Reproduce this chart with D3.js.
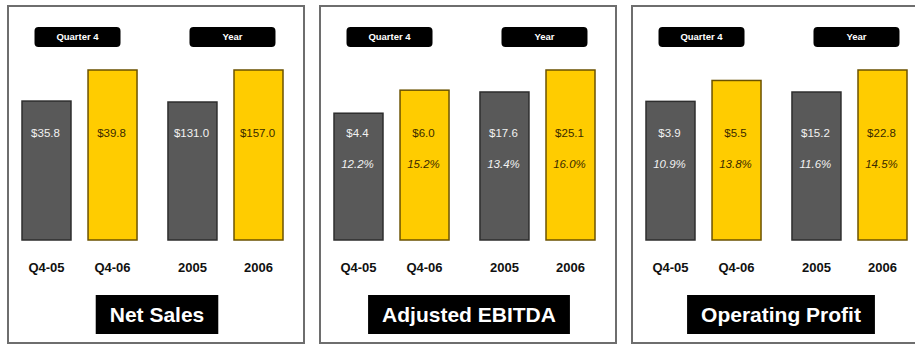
<!DOCTYPE html>
<html>
<head>
<meta charset="utf-8">
<script src="https://cdn.jsdelivr.net/npm/d3@7"></script>
<style>
  body { margin: 0; background: #fff; }
  svg { display: block; font-family: "Liberation Sans", Arial, sans-serif; }
</style>
</head>
<body>
<div id="chart"></div>
<script>
// Data
const panelTitles = ['Net Sales', 'Adjusted EBITDA', 'Operating Profit'];
const groups = ['Quarter 4', 'Year'];
const categories = [['Q4-05', 'Q4-06'], ['2005', '2006']];

const netSales = [35.8, 39.8, 131.0, 157.0];
const ebitda = [4.4, 6.0, 17.6, 25.1];
const opProfit = [3.9, 5.5, 15.2, 22.8];
const panelValues = [netSales, ebitda, opProfit];

const ebitdaMargin = ['12.2%', '15.2%', '13.4%', '16.0%'];
const opMargin = ['10.9%', '13.8%', '11.6%', '14.5%'];
const panelMargins = [null, ebitdaMargin, opMargin];

// value axis limits used in the slide (axes are not zero based)
const quarterAxis = [[17.9, 39.8], [-4.4, 7.4], [-6.7, 6.3]];
const yearAxis = [[18.9, 157], [-32.9, 25.1], [-35.9, 22.8]];

const W = 915, H = 345;
const PANEL_W = 296, PANEL_STEP = 312, PANEL_X0 = 8, PANEL_Y0 = 6;
const BASE_Y = 240, TOP_Y = 70;
const GRAY = '#595959', YELLOW = '#ffcc00';

const svg = d3.select('#chart').append('svg')
    .attr('width', W)
    .attr('height', H);

const groupScale = d3.scaleBand()
    .domain(groups)
    .range([14, 275])
    .paddingInner(0.212)
    .paddingOuter(0);

const barScale = d3.scaleBand()
    .domain([0, 1])
    .range([0, groupScale.bandwidth()])
    .paddingInner(0.258)
    .paddingOuter(0);

const pillShift = [-2, 7];

panelTitles.forEach((title, p) => {
    const g = svg.append('g')
        .attr('transform', `translate(${PANEL_X0 + p * PANEL_STEP},${PANEL_Y0})`);

    // Panel frame
    g.append('rect')
        .attr('x', 0).attr('y', 0)
        .attr('width', PANEL_W).attr('height', 337)
        .attr('fill', '#fff')
        .attr('stroke', '#6e6e6e')
        .attr('stroke-width', 2);

    const yScales = [
        d3.scaleLinear().domain(quarterAxis[p]).range([BASE_Y, TOP_Y]),
        d3.scaleLinear().domain(yearAxis[p]).range([BASE_Y, TOP_Y])
    ];

    const bars = [];
    panelValues[p].forEach((v, i) => {
        const gi = Math.floor(i / 2), bi = i % 2;
        bars.push({
            value: v,
            margin: panelMargins[p] ? panelMargins[p][i] : null,
            group: groups[gi],
            label: categories[gi][bi],
            bi: bi,
            y: yScales[gi]
        });
    });

    // Group pills
    groups.forEach((grp, gi) => {
        const cx = groupScale(grp) + groupScale.bandwidth() / 2 + pillShift[gi];
        g.append('rect')
            .attr('x', cx - 43).attr('y', 21 - PANEL_Y0 + 6)
            .attr('width', 86).attr('height', 20)
            .attr('rx', 4)
            .attr('fill', '#000');
        g.append('text')
            .attr('x', cx).attr('y', 40 - PANEL_Y0)
            .attr('text-anchor', 'middle')
            .attr('fill', '#fff')
            .attr('font-size', 9.5)
            .attr('font-weight', 'bold')
            .text(grp);
    });

    const xOf = d => groupScale(d.group) + barScale(d.bi);

    // Bars
    g.selectAll('rect.bar')
        .data(bars)
        .enter().append('rect')
        .attr('class', 'bar')
        .attr('x', xOf)
        .attr('y', d => d.y(d.value) - PANEL_Y0)
        .attr('width', barScale.bandwidth())
        .attr('height', d => BASE_Y - d.y(d.value))
        .attr('fill', d => d.bi ? YELLOW : GRAY)
        .attr('stroke', d => d.bi ? '#6b5200' : '#2e2e2e')
        .attr('stroke-width', 1.5);

    // Value labels
    g.selectAll('text.val')
        .data(bars)
        .enter().append('text')
        .attr('class', 'val')
        .attr('x', d => xOf(d) + barScale.bandwidth() / 2 - 1)
        .attr('y', 137 - PANEL_Y0)
        .attr('text-anchor', 'middle')
        .attr('font-size', 11.5)
        .attr('fill', d => d.bi ? '#3a2a00' : '#f2f2f2')
        .text(d => '$' + d.value.toFixed(1));

    // Margin labels
    g.selectAll('text.pct')
        .data(bars.filter(d => d.margin))
        .enter().append('text')
        .attr('class', 'pct')
        .attr('x', d => xOf(d) + barScale.bandwidth() / 2 - 1)
        .attr('y', 168 - PANEL_Y0)
        .attr('text-anchor', 'middle')
        .attr('font-size', 11.5)
        .attr('font-style', 'italic')
        .attr('fill', d => d.bi ? '#3a2a00' : '#f2f2f2')
        .text(d => d.margin);

    // Category labels
    g.selectAll('text.cat')
        .data(bars)
        .enter().append('text')
        .attr('class', 'cat')
        .attr('x', d => xOf(d) + barScale.bandwidth() / 2)
        .attr('y', 272 - PANEL_Y0)
        .attr('text-anchor', 'middle')
        .attr('font-size', 13)
        .attr('font-weight', 'bold')
        .attr('fill', '#111')
        .text(d => d.label);

    // Title box
    const tb = g.append('g');
    const tt = tb.append('text')
        .attr('x', 149).attr('y', 322 - PANEL_Y0)
        .attr('text-anchor', 'middle')
        .attr('font-size', 21)
        .attr('font-weight', 'bold')
        .attr('fill', '#fff')
        .text(title);
    const tw = tt.node().getComputedTextLength();
    tb.insert('rect', 'text')
        .attr('x', 149 - tw / 2 - 14).attr('y', 295 - PANEL_Y0)
        .attr('width', tw + 28).attr('height', 39)
        .attr('fill', '#000');
});
</script>
</body>
</html>
